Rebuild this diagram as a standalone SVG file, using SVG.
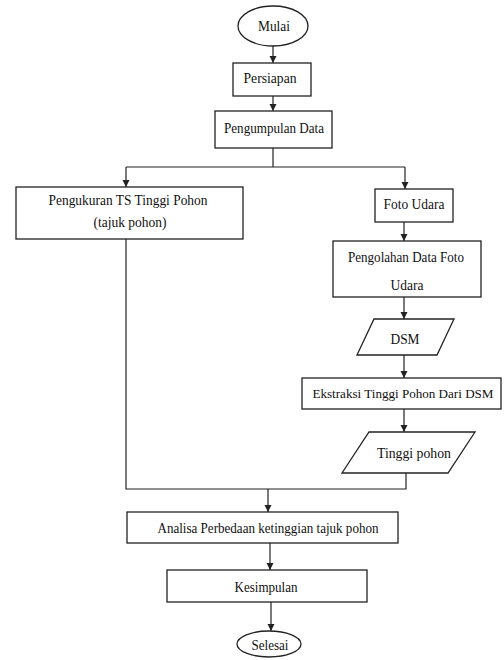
<svg xmlns="http://www.w3.org/2000/svg" width="504" height="660" viewBox="0 0 504 660">
<style>
.s{fill:#fff;stroke:#222;stroke-width:1.3}
.c{fill:none;stroke:#222;stroke-width:1.2}
.t{font-size:14px;fill:#111;text-anchor:middle;dominant-baseline:central}
</style>
<defs>
<marker id="a" markerWidth="8" markerHeight="8" refX="7" refY="4" orient="auto" markerUnits="userSpaceOnUse">
<path d="M0,0.5 L7,4 L0,7.5 Z" fill="#222"/>
</marker>
</defs>
<rect width="504" height="660" fill="#fff"/>
<g id="connectors">
<path class="c" d="M273,46 V63" marker-end="url(#a)"/>
<path class="c" d="M273,96 V111" marker-end="url(#a)"/>
<path class="c" d="M273,148 V167"/>
<path class="c" d="M126,167 H405"/>
<path class="c" d="M126,167 V187" marker-end="url(#a)"/>
<path class="c" d="M405,167 V189" marker-end="url(#a)"/>
<path class="c" d="M404,222 V241" marker-end="url(#a)"/>
<path class="c" d="M404,297 V319" marker-end="url(#a)"/>
<path class="c" d="M404,355 V378" marker-end="url(#a)"/>
<path class="c" d="M404,409 V432" marker-end="url(#a)"/>
<path class="c" d="M406,473 V489 H126 V239"/>
<path class="c" d="M268,489 V512" marker-end="url(#a)"/>
<path class="c" d="M270,543 V570" marker-end="url(#a)"/>
<path class="c" d="M271,602 V631" marker-end="url(#a)"/>
</g>
<g id="mulai"><ellipse class="s" cx="273" cy="26" rx="35" ry="20"/><text class="t" font-family="Liberation Serif" x="274" y="26" textLength="32" lengthAdjust="spacingAndGlyphs">Mulai</text></g>
<g id="persiapan"><rect class="s" x="233" y="63" width="78" height="33"/><text class="t" font-family="Liberation Serif" x="270" y="78" textLength="53" lengthAdjust="spacingAndGlyphs">Persiapan</text></g>
<g id="pengumpulan"><rect class="s" x="215" y="111" width="117" height="37"/><text class="t" font-family="Liberation Serif" x="274" y="128" textLength="100" lengthAdjust="spacingAndGlyphs">Pengumpulan Data</text></g>
<g id="pengukuran"><rect class="s" x="16" y="187" width="227" height="52"/><text class="t" font-family="Liberation Serif" x="128" y="200" textLength="159" lengthAdjust="spacingAndGlyphs">Pengukuran TS Tinggi Pohon</text><text class="t" font-family="Liberation Serif" x="130" y="222" textLength="73" lengthAdjust="spacingAndGlyphs">(tajuk pohon)</text></g>
<g id="foto"><rect class="s" x="375" y="189" width="78" height="33"/><text class="t" font-family="Liberation Serif" x="414" y="204" textLength="61" lengthAdjust="spacingAndGlyphs">Foto Udara</text></g>
<g id="pengolahan"><rect class="s" x="333" y="241" width="148" height="56"/><text class="t" font-family="Liberation Serif" x="406" y="257" textLength="116" lengthAdjust="spacingAndGlyphs">Pengolahan Data Foto</text><text class="t" font-family="Liberation Serif" x="407" y="285" textLength="33" lengthAdjust="spacingAndGlyphs">Udara</text></g>
<g id="dsm"><polygon class="s" points="374,319 454,319 437,355 357,355"/><text class="t" font-family="Liberation Serif" x="405" y="339" textLength="29" lengthAdjust="spacingAndGlyphs">DSM</text></g>
<g id="ekstraksi"><rect class="s" x="302" y="378" width="199" height="31"/><text class="t" font-family="Liberation Serif" font-size="12.5" x="403" y="394" textLength="181" lengthAdjust="spacingAndGlyphs" style="font-size:12.5px">Ekstraksi Tinggi Pohon Dari DSM</text></g>
<g id="tinggi"><polygon class="s" points="369,432 475,432 448,473 342,473"/><text class="t" font-family="Liberation Serif" x="414" y="453" textLength="74" lengthAdjust="spacingAndGlyphs">Tinggi pohon</text></g>
<g id="analisa"><rect class="s" x="127" y="512" width="271" height="31"/><text class="t" font-family="Liberation Serif" x="268" y="528" textLength="221" lengthAdjust="spacingAndGlyphs">Analisa Perbedaan ketinggian tajuk pohon</text></g>
<g id="kesimpulan"><rect class="s" x="167" y="570" width="200" height="32"/><text class="t" font-family="Liberation Serif" x="266" y="587" textLength="63" lengthAdjust="spacingAndGlyphs">Kesimpulan</text></g>
<g id="selesai"><ellipse class="s" cx="269" cy="644" rx="32" ry="13"/><text class="t" font-family="Liberation Serif" x="270" y="645" textLength="37" lengthAdjust="spacingAndGlyphs">Selesai</text></g>
</svg>
